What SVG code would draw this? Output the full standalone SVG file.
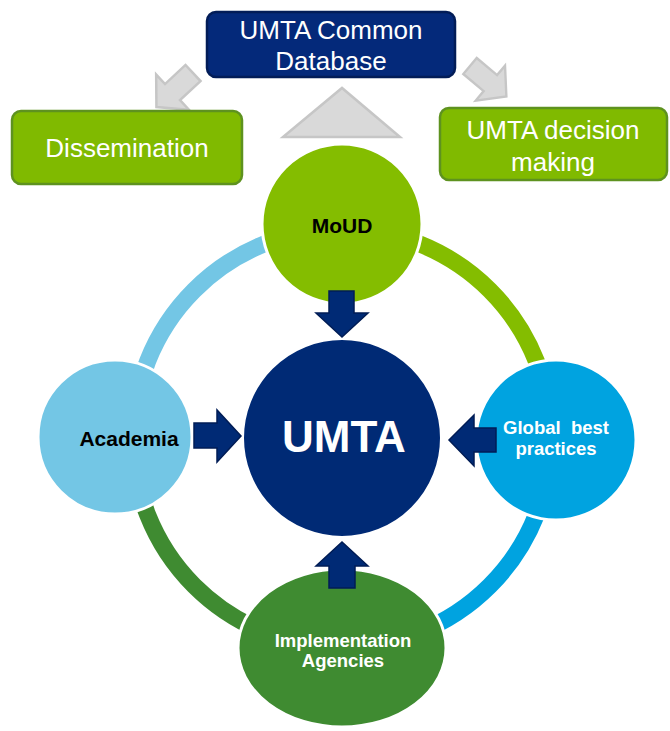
<svg xmlns="http://www.w3.org/2000/svg" width="670" height="731" viewBox="0 0 670 731">
<defs>
<style>
.ring{fill:none;stroke-width:17}
.node{stroke:#fff;stroke-width:3}
.blk{fill:#002A75;stroke:#001C55;stroke-width:1.5;stroke-linejoin:miter}
.gray{fill:#D9D9D9;stroke:#C6C6C6;stroke-width:2.5;stroke-linejoin:miter}
.box{stroke-width:2.5}
.t{font-family:"Liberation Sans",Arial,sans-serif;text-anchor:middle}
.wt{fill:#fff;font-size:26px}
.bold{font-weight:bold}
</style>
<path id="garrow" d="M0,-11 L28,-11 L28,-24 L50,0 L28,24 L28,11 L0,11 Z"/>
</defs>
<rect width="670" height="731" fill="#fff"/>

<g id="connectors">
  <path class="ring" stroke="#73C6E5" d="M133,438 A209,209 0 0 1 342,229"/>
  <path class="ring" stroke="#84BD00" d="M342,229 A209,209 0 0 1 551,438"/>
  <path class="ring" stroke="#00A3E0" d="M551,438 A209,209 0 0 1 342,647"/>
  <path class="ring" stroke="#3F8B31" d="M342,647 A209,209 0 0 1 133,438"/>
  <use href="#garrow" class="gray" transform="translate(193,73) rotate(137)"/>
  <use href="#garrow" class="gray" transform="translate(470,66) rotate(40) scale(0.95)"/>
  <polygon class="gray" points="283,137 400,137 342,88"/>
</g>

<g id="db">
  <rect class="box" x="207" y="12" width="248" height="65" rx="9" fill="#04297A" stroke="#021C57"/>
  <text class="t wt" x="331" y="39">UMTA Common</text>
  <text class="t wt" x="331" y="70">Database</text>
</g>

<g id="dissemination">
  <rect class="box" x="12" y="111" width="230" height="73" rx="9" fill="#80BA00" stroke="#5E921F"/>
  <text class="t wt" x="127" y="157">Dissemination</text>
</g>

<g id="decision">
  <rect class="box" x="440" y="108" width="227" height="72" rx="9" fill="#80BA00" stroke="#5E921F"/>
  <text class="t wt" x="553" y="139">UMTA decision</text>
  <text class="t wt" x="553" y="171">making</text>
</g>

<g id="moud">
  <circle class="node" cx="342" cy="224" r="80" fill="#84BD00"/>
  <text class="t bold" x="342" y="233" font-size="21" fill="#000">MoUD</text>
</g>

<g id="academia">
  <circle class="node" cx="115" cy="437" r="77" fill="#73C6E5"/>
  <text class="t bold" x="129" y="446" font-size="21" fill="#000">Academia</text>
</g>

<g id="global">
  <circle class="node" cx="556" cy="440" r="80" fill="#00A3E0"/>
  <text class="t bold" x="556" y="434" font-size="18.5" fill="#fff" xml:space="preserve">Global  best</text>
  <text class="t bold" x="556" y="455" font-size="18.5" fill="#fff">practices</text>
</g>

<g id="implementation">
  <ellipse class="node" cx="342" cy="648" rx="104" ry="79" fill="#3F8B31"/>
  <text class="t bold" x="343" y="647" font-size="18.5" fill="#fff">Implementation</text>
  <text class="t bold" x="343" y="667" font-size="18.5" fill="#fff">Agencies</text>
</g>

<g id="umta">
  <circle cx="342" cy="438" r="99" fill="#002A75" stroke="#fff" stroke-width="2"/>
  <text class="t bold" x="344" y="452" font-size="44" fill="#fff">UMTA</text>
</g>

<g id="block-arrows">
  <polygon class="blk" points="329,291 354,291 354,313 368,313 342,337 316,313 329,313"/>
  <polygon class="blk" points="329,588 355,588 355,566 368,566 342,542 316,566 329,566"/>
  <polygon class="blk" points="194,423 217,423 217,410 241,436 217,462 217,448 194,448"/>
  <polygon class="blk" points="496,428 474,428 474,415 449,440 474,466 474,452 496,452"/>
</g>
</svg>
